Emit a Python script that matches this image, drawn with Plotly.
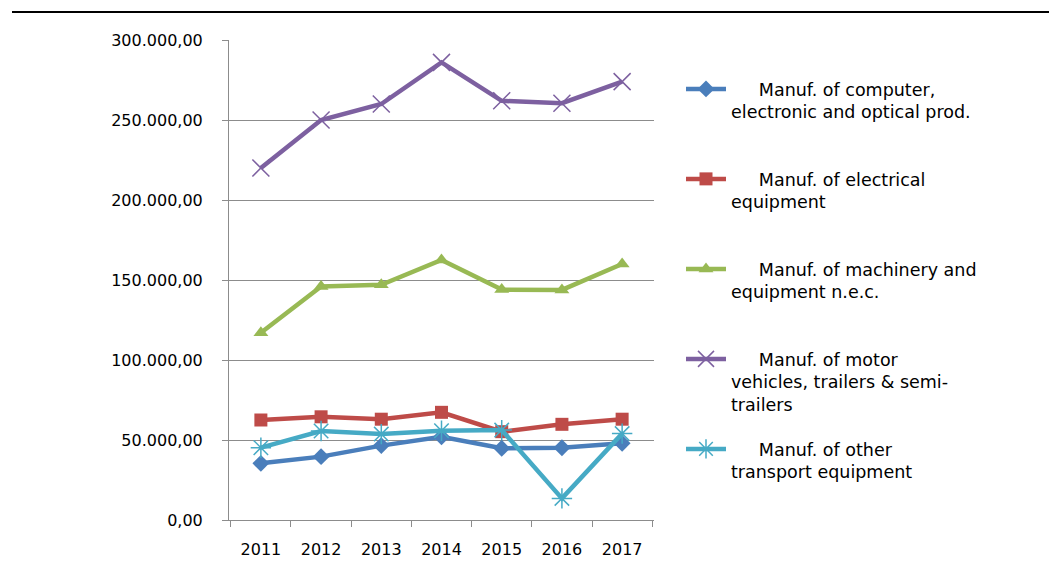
import plotly.graph_objects as go

# =========================================
# DATA
# =========================================
YEARS = ["2011", "2012", "2013", "2014", "2015", "2016", "2017"]

COMPUTER = [35400, 39600, 46500, 52000, 44800, 45200, 48000]
ELECTRICAL = [62500, 64500, 63000, 67300, 55200, 59800, 63000]
MACHINERY = [117000, 146000, 147000, 162500, 144000, 143800, 160000]
MOTOR = [220000, 250000, 260000, 286000, 262000, 260500, 274000]
OTHER_TRANSPORT = [45200, 55600, 53700, 55800, 56200, 13500, 54000]

NBSP = "\u00a0" * 5
SERIES = [
    (NBSP + "Manuf. of computer,<br>electronic and optical prod.", COMPUTER, "#4A7EBB", "diamond"),
    (NBSP + "Manuf. of electrical<br>equipment", ELECTRICAL, "#BE4B48", "square"),
    (NBSP + "Manuf. of machinery and<br>equipment n.e.c.", MACHINERY, "#98B954", "triangle-up"),
    (NBSP + "Manuf. of motor<br>vehicles, trailers & semi-<br>trailers", MOTOR, "#7D60A0", "x-thin"),
    (NBSP + "Manuf. of other<br>transport equipment", OTHER_TRANSPORT, "#46AAC5", "asterisk"),
]

FONT_FAMILY = "DejaVu Sans, sans-serif"
GRID_COLOR = "#8c8c8c"

# plot area in figure pixels (page has an 8px body margin)
L, R, T, B = 221, 646, 32, 512
W, H = 1049, 555


def py(pix):
    return (B - pix) / (B - T)


def px(pix):
    return (pix - L) / (R - L)


fig = go.Figure()

legend_tops = [63, 153, 243, 333, 423]
layout_legends = {}
for i, (name, vals, color, sym) in enumerate(SERIES):
    lname = "legend" if i == 0 else f"legend{i + 1}"
    thin = sym in ("x-thin", "asterisk")
    fig.add_trace(go.Scatter(
        x=YEARS,
        y=vals,
        name=name,
        mode="lines+markers",
        line=dict(color=color, width=4.5),
        marker=dict(
            symbol=sym,
            size=17 if thin else 13,
            color=color,
            line=dict(color=color, width=1.5 if thin else 0),
        ),
        legend=lname,
    ))
    layout_legends[lname] = dict(
        x=px(673),
        y=py(legend_tops[i]),
        xanchor="left",
        yanchor="top",
        valign="top",
        bgcolor="rgba(0,0,0,0)",
        font=dict(family=FONT_FAMILY, size=17.5, color="#000000"),
        itemwidth=40,
    )

fig.update_layout(
    width=W,
    height=H,
    paper_bgcolor="white",
    plot_bgcolor="white",
    font=dict(family=FONT_FAMILY, size=16, color="#000000"),
    separators=",.",
    margin=dict(l=L, r=W - R, t=T, b=H - B, autoexpand=False),
    showlegend=True,
    **layout_legends,
)

fig.update_xaxes(
    type="category",
    automargin=False,
    showgrid=False,
    showline=True,
    linecolor=GRID_COLOR,
    linewidth=1,
    ticks="outside",
    tickson="boundaries",
    ticklen=6,
    tickcolor=GRID_COLOR,
    ticklabelstandoff=15,
    tickfont=dict(size=16),
)

fig.update_yaxes(
    range=[0, 300000],
    dtick=50000,
    tickformat=",.2f",
    automargin=False,
    showgrid=True,
    gridcolor=GRID_COLOR,
    gridwidth=1,
    showline=True,
    linecolor=GRID_COLOR,
    ticks="outside",
    ticklen=6,
    tickcolor=GRID_COLOR,
    ticklabelstandoff=16,
    zeroline=False,
    tickfont=dict(size=16),
)

# top rule of the page
fig.add_shape(
    type="line", xref="paper", yref="paper",
    x0=px(4), x1=px(1049), y0=py(4), y1=py(4),
    line=dict(color="#000000", width=2),
)

fig.write_html("out.html")
